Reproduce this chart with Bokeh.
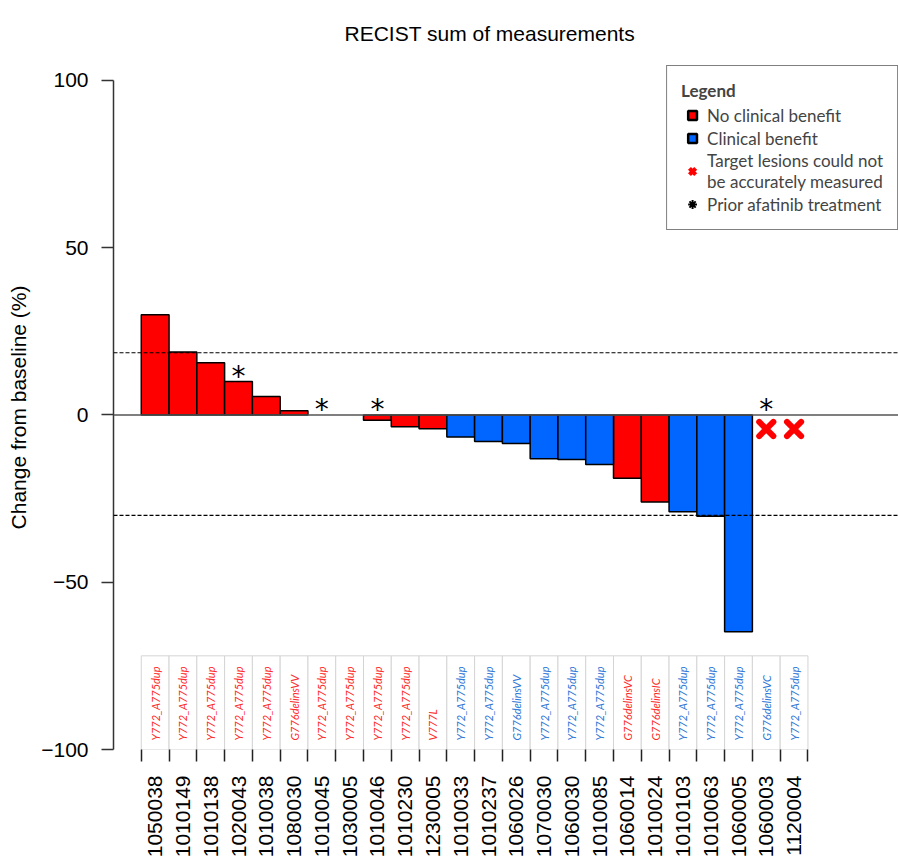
import numpy as np
from bokeh.plotting import figure
from bokeh.models import ColumnDataSource, FixedTicker, Span, Legend, LegendItem, Range1d
from bokeh.core.properties import value
from bokeh.embed import file_html
from bokeh.resources import INLINE

# ---------------- data ----------------
title_text = "RECIST sum of measurements"
patients = ["1050038", "1010149", "1010138", "1020043", "1010038", "1080030",
            "1010045", "1030005", "1010046", "1010230", "1230005", "1010033",
            "1010237", "1060026", "1070030", "1060030", "1010085", "1060014",
            "1010024", "1010103", "1010063", "1060005", "1060003", "1120004"]
change_pct = [30.0, 18.8, 15.6, 10.0, 5.5, 1.3, 0.0, 0.0, -1.6, -3.5, -4.1, -6.6,
              -7.9, -8.5, -13.1, -13.3, -14.8, -18.9, -26.0, -28.9, -30.3, -64.8,
              np.nan, np.nan]
clinical_benefit = [False, False, False, False, False, False, False, False, False,
                    False, False, True, True, True, True, True, True, False, False,
                    True, True, True, True, True]
mutations = ["Y772_A775dup", "Y772_A775dup", "Y772_A775dup", "Y772_A775dup",
             "Y772_A775dup", "G776delinsVV", "Y772_A775dup", "Y772_A775dup",
             "Y772_A775dup", "Y772_A775dup", "V777L", "Y772_A775dup",
             "Y772_A775dup", "G776delinsVV", "Y772_A775dup", "Y772_A775dup",
             "Y772_A775dup", "G776delinsVC", "G776delinsIC", "Y772_A775dup",
             "Y772_A775dup", "Y772_A775dup", "G776delinsVC", "Y772_A775dup"]
prior_afatinib = [False, False, False, True, False, False, True, False, True, False,
                  False, False, False, False, False, False, False, False, False,
                  False, False, False, True, False]
thresholds = [18.6, -30.0]
not_measured_marker_y = -4.2
y_ticks = [-100, -50, 0, 50, 100]
y_tick_labels = ["\u2212100", "\u221250", "0", "50", "100"]

RED = "#FF0000"
BLUE = "#0066FF"
TXT_RED = "#FF2B2B"
TXT_BLUE = "#2F78D8"
TABLE_TOP, TABLE_BOTTOM = -72, -100

n = len(patients)
idx = np.arange(n)
vals = np.array(change_pct, dtype=float)
ben = np.array(clinical_benefit)
drawn = np.isfinite(vals) & (vals != 0)

# ---------------- figure ----------------
p = figure(width=898, height=860,
           x_range=Range1d(-1.5, 26.76), y_range=Range1d(-100, 104.48),
           output_backend="svg", toolbar_location=None,
           min_border_left=113, min_border_right=0,
           min_border_top=65, min_border_bottom=111,
           title=title_text)
p.title.text_font = "Liberation Sans"
p.title.text_font_size = "21px"
p.title.text_font_style = "normal"
p.title.text_color = "black"
p.title.align = "left"
p.title.offset = 231
p.title.vertical_align = "top"
p.title.standoff = 38
p.xgrid.grid_line_color = None
p.ygrid.grid_line_color = None
p.outline_line_color = None

# y axis
ya = p.left[0]
ya.ticker = FixedTicker(ticks=y_ticks)
ya.major_label_overrides = dict(zip(y_ticks, y_tick_labels))
ya.bounds = (-100, 100)
ya.axis_line_color = "#333333"
ya.axis_line_width = 1.5
ya.major_tick_line_color = "#333333"
ya.major_tick_line_width = 1.5
ya.major_tick_out = 12
ya.major_tick_in = 0
ya.minor_tick_line_color = None
ya.major_label_standoff = 13
ya.major_label_text_font = "Liberation Sans"
ya.major_label_text_font_size = "21px"
ya.major_label_text_color = "black"
ya.axis_label = "Change from baseline (%)"
ya.axis_label_text_font = "Liberation Sans"
ya.axis_label_text_font_size = "21px"
ya.axis_label_text_font_style = "normal"
ya.axis_label_text_color = "black"
ya.axis_label_standoff = 8

# x axis (patient IDs, ticks at column edges)
xa = p.below[0]
xa.ticker = FixedTicker(ticks=list(idx), minor_ticks=list(np.arange(n + 1) - 0.5))
xa.major_label_overrides = {int(i): patients[i] for i in idx}
xa.axis_line_color = None
xa.major_tick_line_color = None
xa.major_tick_out = 0
xa.major_tick_in = 0
xa.minor_tick_line_color = "#222222"
xa.minor_tick_line_width = 1.5
xa.minor_tick_out = 12
xa.minor_tick_in = 0
xa.major_label_orientation = np.pi / 2
xa.major_label_standoff = 14
xa.major_label_text_font = "Liberation Sans"
xa.major_label_text_font_size = "21px"
xa.major_label_text_color = "black"

# mutation table
p.quad(left=idx - 0.5, right=idx + 0.5, top=TABLE_TOP, bottom=TABLE_BOTTOM,
       fill_color="white", line_color="#D4D4D4", line_width=1)
p.text(x=idx, y=TABLE_BOTTOM + 2.7, text=mutations, angle=np.pi / 2,
       text_align="left", text_baseline="middle",
       text_font=value("Lato"), text_font_style="italic", text_font_size="11px",
       text_color=[TXT_BLUE if b else TXT_RED for b in clinical_benefit])

# bars
red_src = ColumnDataSource(dict(x=idx[drawn & ~ben], top=vals[drawn & ~ben]))
blue_src = ColumnDataSource(dict(x=idx[drawn & ben], top=vals[drawn & ben]))
p.vbar(x="x", top="top", bottom=0, width=1, source=red_src,
       fill_color=RED, line_color="black", line_width=1.5)
p.vbar(x="x", top="top", bottom=0, width=1, source=blue_src,
       fill_color=BLUE, line_color="black", line_width=1.5)

# reference lines
p.add_layout(Span(location=0, dimension="width", line_color="#555555", line_width=1.5))
for t in thresholds:
    p.add_layout(Span(location=t, dimension="width", line_color="black",
                      line_width=1.2, line_dash="4 2"))

# not measurable markers
nm = ~np.isfinite(vals)
nm_src = ColumnDataSource(dict(x=idx[nm], y=np.full(nm.sum(), not_measured_marker_y)))
p.scatter(x="x", y="y", source=nm_src, marker="x", size=20, line_width=6,
          line_color=RED, line_cap="round")

# prior afatinib asterisks
pa = np.array(prior_afatinib)
ast_y = np.where(np.isfinite(vals) & (vals > 0), vals, 0.0)[pa]
ast_src = ColumnDataSource(dict(x=idx[pa], y=ast_y, t=["*"] * int(pa.sum())))
p.text(x="x", y="y", text="t", source=ast_src, text_font=value("DejaVu Sans"),
       text_font_size="28px", text_align="center", text_baseline="middle",
       y_offset=-5, text_color="black")

# legend proxies
lg_red = p.scatter(x="x", y="top", source=red_src, marker="square", size=9,
                   fill_color=RED, line_color="black", line_width=2.5, visible=False)
lg_blue = p.scatter(x="x", y="top", source=blue_src, marker="square", size=9,
                    fill_color=BLUE, line_color="black", line_width=2.5, visible=False)
lg_x = p.scatter(x="x", y="y", source=nm_src, marker="x", line_color=RED,
                 line_width=4.2, visible=False)
lg_ast = p.scatter(x="x", y="y", source=ast_src, marker="asterisk", line_color="black",
                   line_width=2, visible=False)

legend = Legend(items=[
    LegendItem(label="No clinical benefit", renderers=[lg_red]),
    LegendItem(label="Clinical benefit", renderers=[lg_blue]),
    LegendItem(label="Target lesions could not\nbe accurately measured", renderers=[lg_x]),
    LegendItem(label="Prior afatinib treatment", renderers=[lg_ast]),
], location="top_right", title="Legend", margin=0, padding=14,
    glyph_width=22, glyph_height=22, label_standoff=4, spacing=1,
    label_text_font="Lato", label_text_font_size="17px",
    title_text_font="Lato", title_text_font_size="17px", title_text_font_style="bold",
    title_standoff=3, border_line_color="black", border_line_width=1.5,
    background_fill_alpha=1.0)
p.add_layout(legend)

open("out.html", "w").write(file_html(p, INLINE))
